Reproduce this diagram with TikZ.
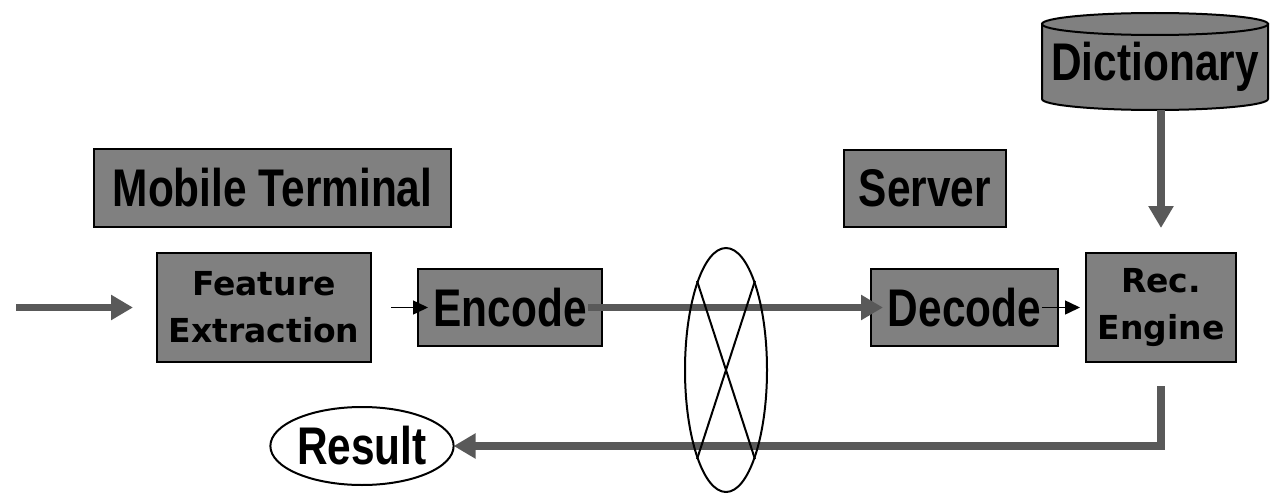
\documentclass[tikz,border=0pt]{standalone}
\usepackage{fontspec}
\setmainfont{Liberation Sans}[FakeStretch=0.8]
\newfontfamily\widefont{DejaVu Sans}
\usepackage{tikz}
\usetikzlibrary{shapes,arrows,arrows.meta,positioning,fit,backgrounds}
\definecolor{boxgray}{RGB}{128,128,128}
\definecolor{arrowgray}{RGB}{89,89,89}
\tikzstyle{block} = [rectangle, draw=black, line width=2pt, fill=boxgray, text=black, align=center, inner sep=0pt, outer sep=0pt]
\tikzstyle{stage} = [block, font=\widefont\bfseries\fontsize{33}{47}\selectfont]
\tikzstyle{bigword} = [text=black, font=\bfseries\fontsize{53}{60}\selectfont]
\tikzstyle{bigedge} = [draw=arrowgray, line width=7.5pt, -{Triangle[length=22pt,width=24pt]}]
\tikzstyle{tedge}  = [draw=black, line width=1.5pt, -{Triangle[length=15pt,width=14pt]}]

\begin{document}
\begin{tikzpicture}[x=1pt, y=-1pt]
\useasboundingbox (0,0) rectangle (1270,495);

% processing chain =============================
\node[stage, minimum width=214pt, minimum height=109pt] (feat) at (264,307.5) {Feature\\Extraction};
\node[block, bigword, minimum width=184pt, minimum height=77pt, right=47pt of feat] (enc) {Encode};
\node[block, bigword, minimum width=187pt, minimum height=77pt, right=269pt of enc] (dec) {Decode};
\node[stage, minimum width=150pt, minimum height=109pt, right=28pt of dec] (rec) {Rec.\\Engine};

% side titles
\node[block, bigword, minimum width=357pt, minimum height=78pt] (mobile) at (272.5,188) {Mobile Terminal};
\node[block, bigword, minimum width=162pt, minimum height=77pt] (server) at (925,188.5) {Server};

% dictionary store
\node[bigword, minimum width=226pt, minimum height=75pt, inner sep=0pt, outer sep=0pt,
      text height=49pt, text depth=11pt] (dict) at (1155,61.5) {Dictionary};
\begin{scope}[on background layer]
\filldraw[fill=boxgray, draw=black, line width=2pt] (dict.north west) -- (dict.south west)
  arc[start angle=180, end angle=360, x radius=113pt, y radius=11pt] -- (dict.north east) -- cycle;
\filldraw[fill=boxgray, draw=black, line width=2pt] (dict.north) ellipse [x radius=113pt, y radius=11pt];
\end{scope}

% result
\node[ellipse, draw=black, line width=2pt, fill=white, minimum width=178pt, minimum height=78pt,
      inner sep=0pt, outer sep=0pt, bigword] (result) at (362,446) {Result};

% edges
\coordinate (input) at (16,307.5);
\path[bigedge, shorten >=24pt] (input) -- (feat);
\path[tedge, shorten <=20pt, shorten >=-10pt] (feat) -- (enc);
\path[bigedge, shorten <=-14pt, shorten >=-12pt] (enc) -- (dec);
\path[tedge, shorten <=-16pt, shorten >=6pt] (dec) -- (rec);
\path[bigedge, shorten <=11pt, shorten >=25pt] (dict.south -| rec.north) -- (rec.north);
\path[bigedge] ([yshift=-24pt]rec.south) |- (result.east);

% network link
\node[ellipse, draw=black, line width=2pt, minimum width=82pt, minimum height=244pt, inner sep=0pt] (link) at (726,370) {};
\draw[line width=2pt] (link.108) -- (link.288) (link.72) -- (link.252);

\end{tikzpicture}
\end{document}
